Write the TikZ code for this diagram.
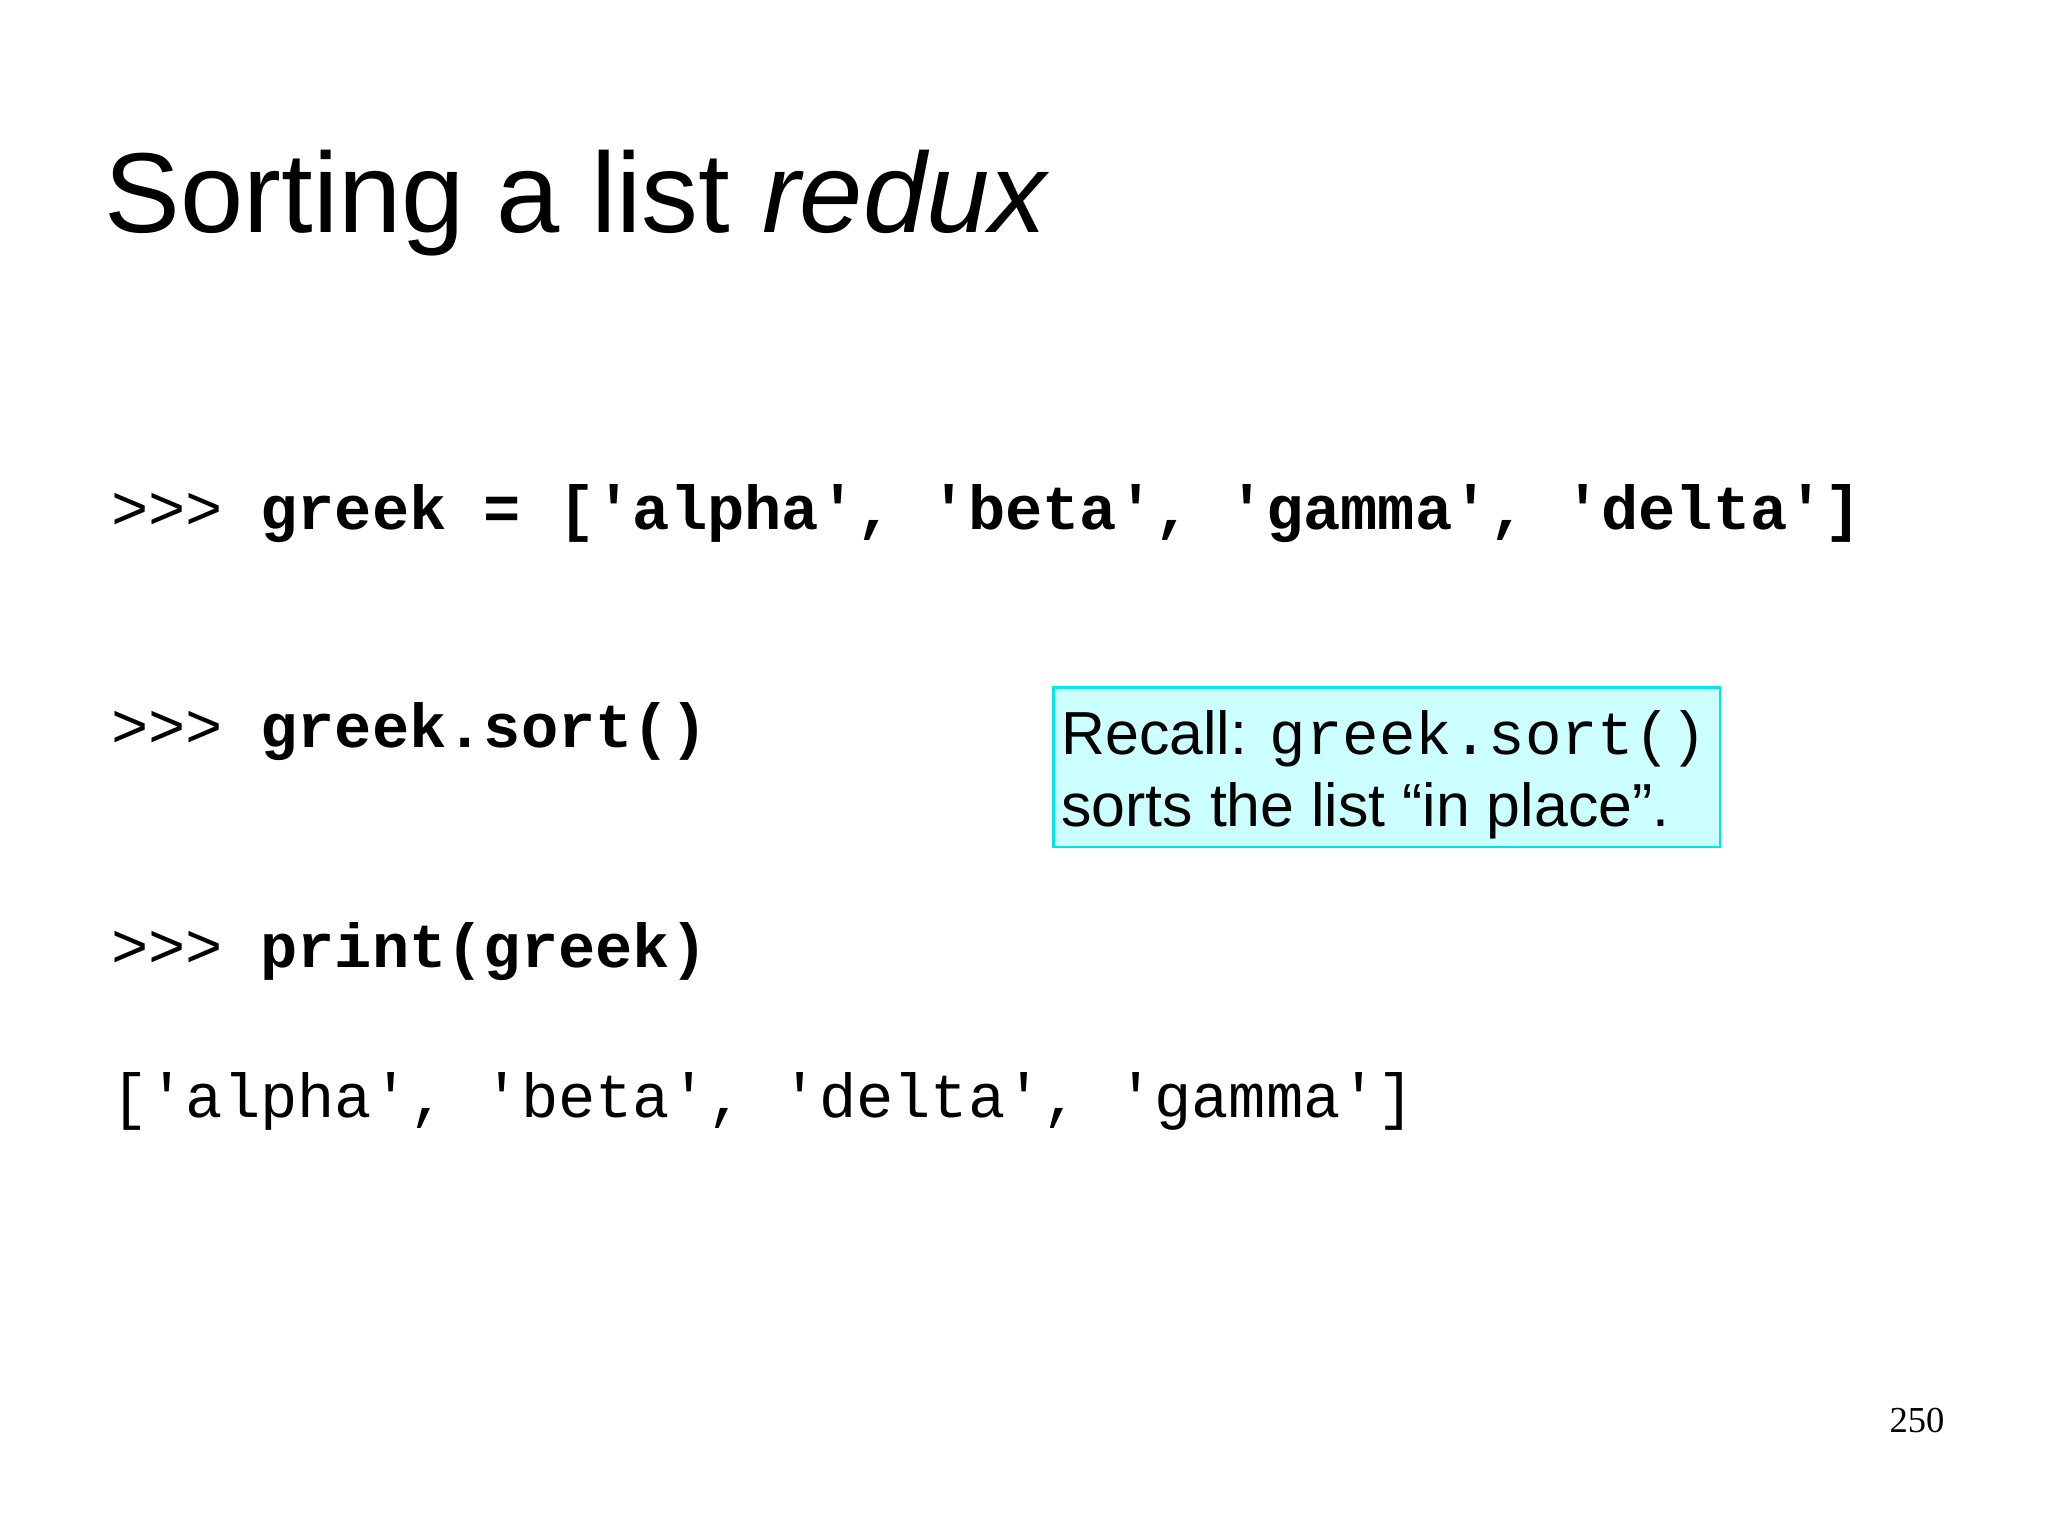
\documentclass[tikz,border=0pt]{standalone}
\usepackage{fontspec}
\setmainfont{Liberation Sans}
\setmonofont{Liberation Mono}
\newfontfamily\pageserif{Liberation Serif}
\definecolor{boxfill}{RGB}{204,255,255}
\definecolor{boxline}{RGB}{0,230,230}
\begin{document}
\begin{tikzpicture}[x=1pt,y=1pt,
  code/.style={anchor=base west,inner sep=0pt,font=\fontsize{47.5}{55}\selectfont\ttfamily}]
\useasboundingbox (0,0) rectangle (1567,-1174.5);
\node[anchor=base west,inner sep=0pt,font=\fontsize{87}{105}\selectfont] (title) at (80,-178) {Sorting a list \textit{redux}};
\node[code] (l1) at (85,-405) {>>> \textbf{greek = ['alpha', 'beta', 'gamma', 'delta']}};
\node[code] (l2) at (85,-572) {>>> \textbf{greek.sort()}};
\node[code] (l3) at (85,-740) {>>> \textbf{print(greek)}};
\node[code] (l4) at (85,-855) {['alpha', 'beta', 'delta', 'gamma']};
\draw[boxline,fill=boxfill,line width=2pt] (806,-526) rectangle (1316,-648);
\node[anchor=base west,inner sep=0pt,font=\fontsize{46.5}{55}\selectfont] (r1) at (812,-577) {Recall: \texttt{greek.sort()}};
\node[anchor=base west,inner sep=0pt,font=\fontsize{46.5}{55}\selectfont] (r2) at (812,-632) {sorts the list “in place”.};
\node[anchor=base east,inner sep=0pt,font=\fontsize{28}{34}\selectfont\pageserif] (pg) at (1488,-1096) {250};
\end{tikzpicture}
\end{document}
